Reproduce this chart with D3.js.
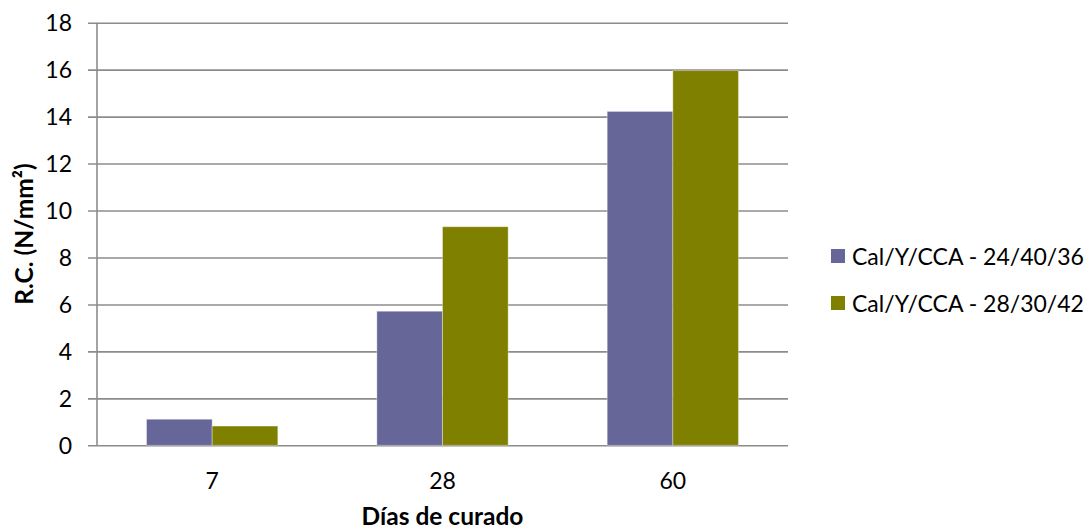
<!DOCTYPE html>
<html>
<head>
<meta charset="utf-8">
<script src="https://cdn.jsdelivr.net/npm/d3@7"></script>
<style>
  html, body { margin: 0; padding: 0; background: #fff; }
  svg { display: block; }
  text { font-family: Lato, "Open Sans", sans-serif; fill: #000; }
</style>
</head>
<body>
<svg id="chart" width="1089" height="531"></svg>
<script>
// Compressive strength by curing age, two mixes
const categories = ["7", "28", "60"];
const seriesNames = ["Cal/Y/CCA - 24/40/36", "Cal/Y/CCA - 28/30/42"];
const seriesA = [1.11, 5.71, 14.22];
const seriesB = [0.82, 9.31, 15.96];
const yTicks = [0, 2, 4, 6, 8, 10, 12, 14, 16, 18];
const colors = ["#666699", "#808000"];

const svg = d3.select("#chart");
const plot = { left: 97, right: 788, top: 22.7, bottom: 445.3 };
const gridColor = "#8c8c8c";

const x = d3.scaleBand()
  .domain(categories)
  .range([plot.left, plot.right])
  .paddingInner(0.43)
  .paddingOuter(0.215);

const xInner = d3.scaleBand()
  .domain([0, 1])
  .range([0, x.bandwidth()]);

const y = d3.scaleLinear()
  .domain([0, 18])
  .range([plot.bottom, plot.top]);

// horizontal gridlines with short ticks on the left
const yAxis = d3.axisLeft(y)
  .tickValues(yTicks)
  .tickSize(-(plot.right - plot.left))
  .tickSizeOuter(0)
  .tickPadding(25)
  .tickFormat(d3.format("d"));

const gy = svg.append("g")
  .attr("transform", `translate(${plot.left},0)`)
  .call(yAxis);
gy.select(".domain").remove();
gy.selectAll(".tick line")
  .attr("x1", -9)
  .attr("stroke", gridColor)
  .attr("stroke-width", 1.6);
gy.selectAll(".tick text")
  .style("font-family", "Lato, sans-serif")
  .attr("font-size", 23)
  .attr("fill", "#000")
  .attr("dy", "0.36em");

// bars
const rows = categories.map((c, i) => ({ cat: c, vals: [seriesA[i], seriesB[i]] }));
const groups = svg.append("g").selectAll("g")
  .data(rows)
  .join("g")
  .attr("transform", d => `translate(${x(d.cat)},0)`);

groups.selectAll("rect")
  .data(d => d.vals.map((v, k) => ({ v, k })))
  .join("rect")
  .attr("x", d => xInner(d.k))
  .attr("width", xInner.bandwidth())
  .attr("y", d => y(d.v))
  .attr("height", d => y(0) - y(d.v))
  .attr("fill", d => colors[d.k])
  .attr("stroke", "rgba(255,255,255,0.35)")
  .attr("stroke-width", 1);

// vertical axis line
svg.append("line")
  .attr("x1", plot.left).attr("x2", plot.left)
  .attr("y1", y(18)).attr("y2", y(0))
  .attr("stroke", gridColor)
  .attr("stroke-width", 1.6);

// category labels
const xAxis = d3.axisBottom(x).tickSize(0).tickPadding(27);
const gx = svg.append("g")
  .attr("transform", `translate(0,${plot.bottom})`)
  .call(xAxis);
gx.select(".domain").remove();
gx.selectAll(".tick text")
  .style("font-family", "Lato, sans-serif")
  .attr("font-size", 23)
  .attr("fill", "#000");

// axis titles
svg.append("text")
  .attr("x", (plot.left + plot.right) / 2)
  .attr("y", 525)
  .attr("text-anchor", "middle")
  .attr("font-size", 24.5)
  .attr("font-weight", "bold")
  .text("Días de curado");

svg.append("text")
  .attr("transform", `translate(33,${(plot.top + plot.bottom) / 2}) rotate(-90)`)
  .attr("text-anchor", "middle")
  .attr("font-size", 24.5)
  .attr("font-weight", "bold")
  .text("R.C. (N/mm²)");

// legend
const legend = svg.append("g").attr("transform", "translate(831,249)");
const items = legend.selectAll("g")
  .data(seriesNames)
  .join("g")
  .attr("transform", (d, i) => `translate(0,${i * 47})`);
items.append("rect")
  .attr("width", 14).attr("height", 14)
  .attr("fill", (d, i) => colors[i]);
items.append("text")
  .attr("x", 21)
  .attr("y", 7.5)
  .attr("dy", "0.36em")
  .attr("font-size", 23)
  .text(d => d);
</script>
</body>
</html>
